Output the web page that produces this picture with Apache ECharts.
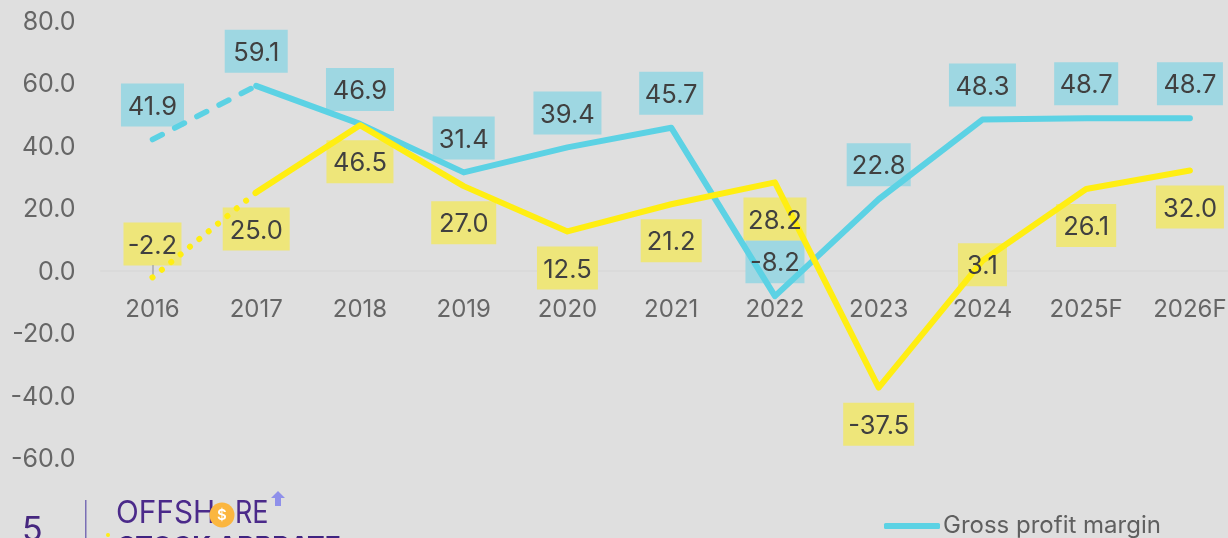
<!DOCTYPE html>
<html><head><meta charset="utf-8">
<script src="https://cdn.jsdelivr.net/npm/echarts@6/dist/echarts.min.js"></script>
<style>html,body{margin:0;padding:0;background:#dfdfdf}#c{width:1228px;height:538px}</style>
</head><body><div id="c"></div>
<script>
const categories = ['2016','2017','2018','2019','2020','2021','2022','2023','2024','2025F','2026F'];
const grossMargin = [41.9,59.1,46.9,31.4,39.4,45.7,-8.2,22.8,48.3,48.7,48.7];
const netMargin = [-2.2,25.0,46.5,27.0,12.5,21.2,28.2,-37.5,3.1,26.1,32.0];
const yTicks = {min:-60,max:80,interval:20};
const legendName = 'Gross profit margin';
const netName = 'Net profit margin';
const grossBoxWidths = [63,63,68,62,68,64,59,64,67,64,66];
const netBoxWidths = [58,67,67,65,61,61,63,71,49,60,68];

const font = 'Inter';
const TEAL = '#5CD2E4', YELLOW = '#FFEE12', INK = '#404040';
const fmt = p => Number(p.value).toFixed(1);
const firstSeg = arr => arr.map((v,i)=>i<=1?v:null);
const rest = arr => arr.map((v,i)=>i===0?null:v);

function labelled(values, widths, withBox, bg, defaults, special, textShift){
  return values.map((v,i)=>{
    const sp = special[i]||{};
    const off = sp.offset||[0,0];
    return {
      value:v,
      label:{
        show:true,fontFamily:font,fontSize:25.5,align:'center',formatter:fmt,
        width:widths[i],height:43,lineHeight:43,verticalAlign:'middle',padding:0,
        color:withBox?'transparent':INK,
        backgroundColor:withBox?bg:'transparent',
        ...defaults,...sp,
        offset:[off[0],off[1]+textShift]
      }
    };
  });
}
const grossDefaults = {position:'top',distance:34};
const netDefaults = {position:'bottom',distance:36};
const netSpecial = {0:{position:'top',distance:33},8:{position:'inside',offset:[0,4]}};
const hidden = {symbol:'circle',symbolSize:1,lineStyle:{width:0,color:'transparent'},itemStyle:{color:'transparent'}};

const chart = echarts.init(document.getElementById('c'),null,{renderer:'canvas'});
chart.setOption({
  animation:false,
  backgroundColor:'#dfdfdf',
  textStyle:{fontFamily:font},
  grid:{left:100.6,top:20.5,width:1141.2,height:437.5,outerBoundsMode:'none'},
  legend:{data:[legendName],left:884,top:514,padding:0,itemWidth:56,itemHeight:6,itemGap:0,
    icon:'roundRect',textStyle:{fontFamily:font,fontSize:24,color:'#5f5f5f',padding:[0,0,0,-2]}},
  xAxis:{type:'category',data:categories,axisLine:{onZero:true,lineStyle:{color:'#d9d9d9',width:1.5}},
    axisTick:{show:false},axisLabel:{color:'#666666',fontFamily:font,fontSize:24,margin:-160,interval:0}},
  yAxis:{type:'value',min:yTicks.min,max:yTicks.max,interval:yTicks.interval,
    axisLine:{show:false},axisTick:{show:false},splitLine:{show:false},
    axisLabel:{color:'#666666',fontFamily:font,fontSize:25,margin:25,verticalAlign:'top',lineHeight:3,formatter:v=>v.toFixed(1)}},
  series:[
    {name:'gross-boxes',type:'line',data:labelled(grossMargin,grossBoxWidths,true,'#9ED7E2',grossDefaults,{},0),z:1,...hidden},
    {name:'net-boxes',type:'line',data:labelled(netMargin,netBoxWidths,true,'#EEE67A',netDefaults,netSpecial,0),z:1,...hidden},
    {name:'gross-first',type:'line',data:firstSeg(grossMargin),symbol:'none',z:3,
      lineStyle:{color:TEAL,width:5.5,type:[11,14],cap:'round'},itemStyle:{color:TEAL}},
    {name:legendName,type:'line',data:rest(grossMargin),symbol:'none',z:3,
      lineStyle:{color:TEAL,width:6,cap:'round',join:'round'},itemStyle:{color:TEAL}},
    {name:'net-first',type:'line',data:firstSeg(netMargin),symbol:'none',z:4,
      lineStyle:{color:YELLOW,width:6,type:[0.1,12],cap:'round'},itemStyle:{color:YELLOW},
      markLine:{silent:true,symbol:'none',z:2,label:{show:false},lineStyle:{color:'#a8a8a8',width:1.5,type:'solid'},
        data:[[{coord:[categories[0],netMargin[0]]},{coord:[categories[0],1.8]}]]}},
    {name:netName,type:'line',data:rest(netMargin),symbol:'none',z:4,
      lineStyle:{color:YELLOW,width:6,cap:'round',join:'round'},itemStyle:{color:YELLOW}},
    {name:'gross-text',type:'line',data:labelled(grossMargin,grossBoxWidths,false,'',grossDefaults,{},2),z:6,...hidden},
    {name:'net-text',type:'line',data:labelled(netMargin,netBoxWidths,false,'',netDefaults,netSpecial,2),z:6,...hidden}
  ],
  graphic:[
    {type:'text',left:22,top:514,style:{text:'5',font:'34px Inter',fill:'#46277f'}},
    {type:'rect',shape:{x:85,y:500,width:1.5,height:38},style:{fill:'#7a6fb5'}},
    {type:'text',x:116,y:498,scaleX:0.96,style:{text:'OFFSH',font:'400 31px Inter',fill:'#4b2a8a'}},
    {type:'circle',shape:{cx:222,cy:515,r:12.5},style:{fill:'#FBB63F'}},
    {type:'text',x:222,y:515,style:{text:'$',font:'600 15px Inter',fill:'#fff',align:'center',verticalAlign:'middle'}},
    {type:'text',x:235,y:498,scaleX:0.87,style:{text:'RE',font:'400 31px Inter',fill:'#4b2a8a'}},
    {type:'polygon',shape:{points:[[278,491],[285,498],[281,498],[281,506],[275,506],[275,498],[271,498]]},style:{fill:'#8f90ea'}},
    {type:'circle',shape:{cx:108,cy:535,r:2},style:{fill:YELLOW}},
    {type:'text',x:118,y:535,style:{text:'STOCK ARBRATE',font:'700 26.5px Inter',fill:'#3f2380'}}
  ]
});
</script></body></html>
